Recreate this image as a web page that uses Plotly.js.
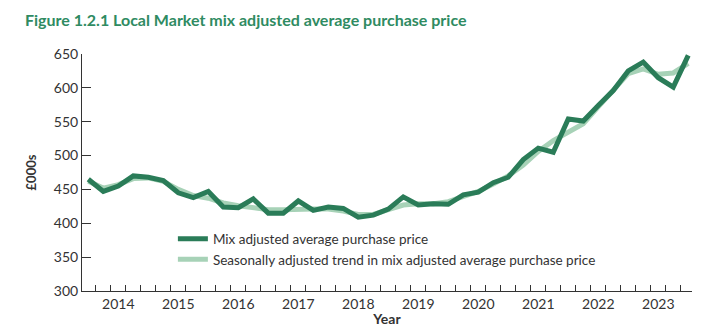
<!DOCTYPE html>
<html>
<head>
<meta charset="utf-8">
<script src="https://cdn.plot.ly/plotly-3.0.1.min.js"></script>
<style>
html,body{margin:0;padding:0;background:#fff;}
#chart{width:721px;height:327px;}
</style>
</head>
<body>
<div id="chart"></div>
<script>
// Quarterly observations, 2013 Q3 to 2023 Q3 (index 0..40)
const quarterIndex = Array.from({length: 41}, (_, i) => i);
const mixAdjusted = [465, 447, 455, 470, 468, 463, 445, 438, 447, 424, 423, 436, 415, 415, 433, 419, 424, 422, 409, 412, 421,
                     439, 427, 429, 428, 442, 446, 460, 468, 494, 511, 505, 554, 551, 574, 596, 625, 638, 615, 601, 648];
const seasonalTrend = [462, 452, 457, 466, 467, 462, 450, 441, 437, 430, 426, 423, 420, 420, 421, 421, 421, 418, 413, 413, 420,
                       427, 429, 429, 432, 439, 447, 458, 470, 486, 506, 522, 535, 547, 572, 597, 621, 628, 620, 622, 636];
const yearTickPos = [2, 6, 10, 14, 18, 22, 26, 30, 34, 38];
const yearLabels = ["2014", "2015", "2016", "2017", "2018", "2019", "2020", "2021", "2022", "2023"];
const seriesNames = ["Mix adjusted average purchase price", "Seasonally adjusted trend in mix adjusted average purchase price"];

const FONT = "Lato, 'Open Sans', sans-serif";

const traces = [
  {
    x: quarterIndex, y: seasonalTrend, type: "scatter", mode: "lines",
    name: seriesNames[1],
    line: {color: "#a7d2b7", width: 5},
    hoverinfo: "skip"
  },
  {
    x: quarterIndex, y: mixAdjusted, type: "scatter", mode: "lines",
    name: seriesNames[0],
    line: {color: "#2a7c58", width: 5},
    hoverinfo: "skip"
  }
];

const layout = {
  width: 721, height: 327,
  margin: {l: 82, r: 29, t: 54, b: 36},
  paper_bgcolor: "#fff", plot_bgcolor: "#fff",
  font: {family: FONT, color: "#333"},
  showlegend: true,
  title: {
    text: "<b>Figure 1.2.1 Local Market mix adjusted average purchase price</b>",
    font: {family: FONT, size: 16, color: "#2f8b62"},
    xref: "container", yref: "container",
    x: 25/721, xanchor: "left", y: 1 - 20/327, yanchor: "middle"
  },
  legend: {
    x: 0.149, y: 0.285, xanchor: "left", yanchor: "top",
    traceorder: "reversed",
    font: {family: FONT, size: 13.5, color: "#333"},
    bgcolor: "rgba(0,0,0,0)",
    tracegroupgap: 0
  },
  xaxis: {
    range: [-0.42, 40.25],
    tickmode: "array", tickvals: yearTickPos, ticktext: yearLabels,
    ticks: "",
    tickfont: {family: FONT, size: 14, color: "#333"},
    showline: true, linecolor: "#333", linewidth: 1,
    showgrid: false, zeroline: false,
    minor: {tickmode: "linear", tick0: 0.5, dtick: 1, ticks: "inside", ticklen: 6, tickcolor: "#333", tickwidth: 1, showgrid: false},
    title: {text: "<b>Year</b>", font: {family: FONT, size: 14, color: "#333"}, standoff: 14},
    fixedrange: true
  },
  yaxis: {
    range: [300, 650],
    tickmode: "linear", tick0: 300, dtick: 50,
    ticks: "inside", ticklen: 9, tickcolor: "#333", tickwidth: 1,
    tickfont: {family: FONT, size: 14, color: "#333"},
    showline: true, linecolor: "#333", linewidth: 1,
    showgrid: false, zeroline: false,
    title: {text: "<b>£000s</b>", font: {family: FONT, size: 13, color: "#333"}, standoff: 14},
    fixedrange: true
  }
};

Plotly.newPlot("chart", traces, layout, {displayModeBar: false, staticPlot: true});
</script>
</body>
</html>
